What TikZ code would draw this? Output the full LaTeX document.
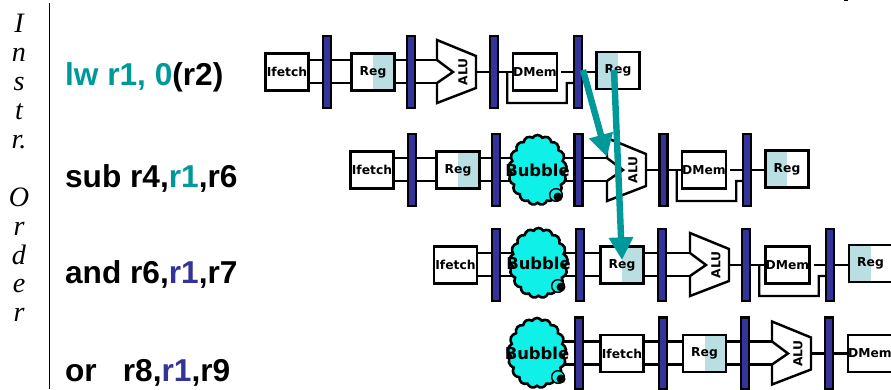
\documentclass[tikz,border=0pt]{standalone}
\usepackage{fontspec}
\usepackage{xcolor}
\usepackage{tikz}
\usetikzlibrary{arrows.meta}
\usetikzlibrary{shapes.symbols}
\setmainfont{Liberation Sans}
\newfontfamily\blockfont{DejaVu Sans}
\newfontfamily\orderfont{Liberation Serif}
\definecolor{bartone}{HTML}{333399}
\definecolor{forward}{HTML}{009999}
\definecolor{regshade}{HTML}{B9DFE3}
\definecolor{bubbletone}{HTML}{0FF0E8}
\tikzset{wire/.style={line width=2.1pt}}
\tikzset{blockbox/.style={draw,line width=2.1pt,fill=white,inner sep=0pt,minimum width=1.3cm,minimum height=1.1cm,font=\blockfont\bfseries\fontsize{10.5}{12}\selectfont}}
\tikzset{regwrite/.style={blockbox,path picture={\fill[regshade] (path picture bounding box.south west) rectangle (path picture bounding box.north);}}}
\tikzset{regread/.style={blockbox,path picture={\fill[regshade] (path picture bounding box.south) rectangle (path picture bounding box.north east);}}}
\tikzset{latch/.style={draw,line width=2.1pt,fill=bartone,inner sep=0pt,minimum width=0.24cm,minimum height=2.17cm}}
\tikzset{instr/.style={anchor=base west,font=\bfseries\fontsize{27}{32}\selectfont}}
\tikzset{stall/.style={draw,cloud,cloud puffs=17,cloud puff arc=120,aspect=0.85,line width=2.2pt,fill=bubbletone,inner sep=0pt,minimum width=1.75cm,minimum height=2.1cm,label={[font=\blockfont\bfseries\fontsize{14}{16}\selectfont]center:Bubble}}}
\tikzset{stalldot/.style={draw,circle,line width=1.2pt,fill=bubbletone,inner sep=0pt,minimum size=0.38cm}}
\tikzset{stallcore/.style={circle,fill=black,inner sep=0pt,minimum size=0.27cm}}
\tikzset{hazard/.style={line width=5.5pt,color=forward,-{Triangle[length=0.68cm,width=0.7cm]}}}
\tikzset{
alu/.pic={
    \draw [fill=white, line width=2.1pt, line join=miter] (-19,-32) -- (20,-16) -- (20,16) -- (-19,31) -- (-19,11) -- (-3,0) -- (-19,-12) -- cycle;
    \node [rotate=90, font=\blockfont\bfseries\fontsize{10.5}{12}\selectfont] (-label) at (7,0) {ALU};
    \coordinate (-in) at (-19,0);
    \coordinate (-out) at (20,0);
  }
}

\begin{document}
\begin{tikzpicture}[x=0.03cm, y=-0.03cm]
    \useasboundingbox (0,0) rectangle (891,389);

    % order axis on the left
    \node [align=center, font=\orderfont\itshape\fontsize{24}{24.7}\selectfont] (order) at (19,168)
        {I\\n\\s\\t\\r.\\\mbox{}\\O\\r\\d\\e\\r};
    \coordinate (axistop) at (49.5,3);
    \coordinate (axisbot) at (49.5,389);
    \draw [line width=0.8pt] (axistop) -- (axisbot);
    \coordinate (tickl) at (843.5,0.5);
    \coordinate (tickr) at (847.5,0.5);
    \draw [line width=1pt] (tickl) -- (tickr);

    \node [instr] (lw) at (61,85) {\textcolor{forward}{lw r1, 0}(r2)};
    \node [instr] (sub) at (61,187) {sub r4,\textcolor{forward}{r1},r6};
    \node [instr] (and) at (61,283) {and r6,\textcolor{bartone}{r1},r7};
    \node [instr] (or) at (61,381) {or\hspace{0.55em} r8,\textcolor{bartone}{r1},r9};

    % first row
    \node [blockbox] (if1) at (287,72) {Ifetch};
    \node [latch] (b11) at (327,72) {};
    \node [regread] (id1) at (373,72) {Reg};
    \node [latch] (b12) at (411,72) {};
    \pic (a1) at (456,72) {alu};
    \node [latch] (b13) at (494,72) {};
    \node [blockbox] (dm1) at (535,72) {DMem};
    \node [latch] (b14) at (578,72) {};
    \node [regwrite] (wb1) at (618,70.5) {Reg};

    % second row
    \node [blockbox] (if2) at (372,170) {Ifetch};
    \node [latch] (b21) at (412,170) {};
    \node [regread] (id2) at (458,170) {Reg};
    \node [latch] (b22) at (496,170) {};
    \node [latch] (b23) at (578.5,170) {};
    \pic (a2) at (626,170) {alu};
    \node [latch] (b24) at (663.5,170) {};
    \node [blockbox] (dm2) at (704,170) {DMem};
    \node [latch] (b25) at (747,170) {};
    \node [regwrite] (wb2) at (787,169) {Reg};

    % third row
    \node [blockbox] (if3) at (455.5,265) {Ifetch};
    \node [latch] (b31) at (496,265) {};
    \node [latch] (b32) at (580,265) {};
    \node [regread] (id3) at (622,265) {Reg};
    \node [latch] (b33) at (662,265) {};
    \pic (a3) at (709,265) {alu};
    \node [latch] (b34) at (746,265) {};
    \node [blockbox] (dm3) at (787.5,265) {DMem};
    \node [latch] (b35) at (830,265) {};
    \node [regwrite] (wb3) at (870.5,263.5) {Reg};

    % fourth row
    \node [latch] (b41) at (579,353.5) {};
    \node [blockbox] (if4) at (622,353.5) {Ifetch};
    \node [latch] (b42) at (663,353.5) {};
    \node [regread] (id4) at (704.5,353.5) {Reg};
    \node [latch] (b43) at (745,353.5) {};
    \pic (a4) at (791,353.5) {alu};
    \node [latch] (b44) at (829,353.5) {};
    \node [blockbox] (dm4) at (870,353.5) {DMem};

    % two wires between stages
    \foreach \from/\to in {if1/b11,b11/id1,id1/b12,b12/a1-in,
                           if2/b21,b21/id2,id2/b22,b22/b23,b23/a2-in,
                           if3/b31,b31/b32,b32/id3,id3/b33,b33/a3-in,
                           b41/if4,if4/b42,b42/id4,id4/b43,b43/a4-in} {
        \draw [wire] ([yshift=3.6mm]\from.east) -- ([yshift=3.6mm]\to.west);
        \draw [wire] ([yshift=-3.3mm]\from.east) -- ([yshift=-3.3mm]\to.west);
    }
    \draw [wire] ([yshift=3.6mm]b41.west) -- ++(-20,0);
    \draw [wire] ([yshift=-3.3mm]b41.west) -- ++(-20,0);

    % one wire between stages
    \foreach \from/\to in {a1-out/b13,b13/dm1,b14/wb1,
                           a2-out/b24,b24/dm2,b25/wb2,
                           a3-out/b34,b34/dm3,b35/wb3,
                           a4-out/b44,b44/dm4} {
        \draw [wire] (\from.east) -- (\from.east -| \to.west);
    }

    % memory output and the bypass round it
    \foreach \from/\via/\to in {b13/dm1/b14,b24/dm2/b25,b34/dm3/b35} {
        \draw [wire] ([xshift=0.1cm]\via.east) -- (\to.west);
        \draw [wire] ([xshift=0.24cm]\from.east) -- ++(0,31) -- ++(59.5,0) -- ++(0,-20) -- ([yshift=-3.3mm]\to.west);
    }

    % stalls
    \node [stall] (bub2) at (537.5,170) {};
    \node [stalldot] (bub2d) at (556,195) {};
    \node [stallcore] (bub2c) at (558,197) {};
    \node [stall] (bub3) at (538.5,263) {};
    \node [stalldot] (bub3d) at (558,286) {};
    \node [stallcore] (bub3c) at (561,287) {};
    \node [stall] (bub4) at (537,353) {};
    \node [stalldot] (bub4d) at (558,377) {};
    \node [stallcore] (bub4c) at (561,379) {};

    % hazards
    \coordinate (memout) at (583,70);
    \coordinate (alutip) at (607,157);
    \coordinate (wbout) at (614,70);
    \coordinate (regtip) at (622,260);
    \draw [hazard] (memout) -- (alutip);
    \draw [hazard] (wbout) -- (regtip);
\end{tikzpicture}
\end{document}
